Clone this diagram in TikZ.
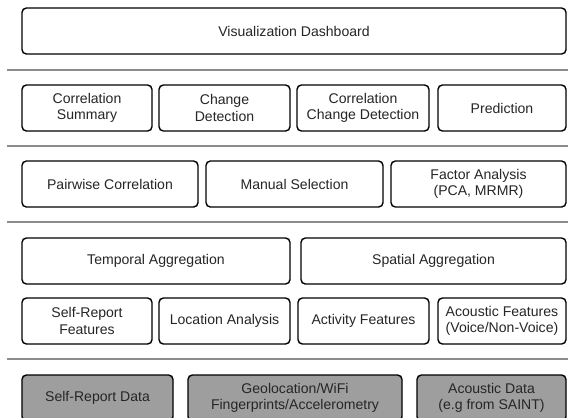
\documentclass[tikz,border=0pt]{standalone}
\usepackage{fontspec}
\setmainfont{Liberation Sans}
\tikzset{
	layer/.style={draw=black, line width=1pt, rounded corners=1.1mm, fill=white,
		align=center, inner sep=0pt, minimum height=11.5mm,
		font=\fontsize{10}{11.5}\selectfont, text=black!85},
	rawdata/.style={layer, fill=black!38},
	sep/.style={draw=black!45, line width=0.9pt}
}
\begin{document}
\begin{tikzpicture}[x=0.25mm, y=-0.25mm]
	\useasboundingbox (0,0) rectangle (568,417);
	% separators between the layers
	\coordinate (sl) at (7,0);
	\coordinate (sr) at (568,0);
	\foreach \y in {70,146,222,359}
		\draw[sep] (sl |- 0,\y) -- (sr |- 0,\y);
	% top layer
	\node[layer, minimum width=136mm] (dash) at (294,31) {Visualization Dashboard};
	% analysis
	\node[layer, minimum width=32.5mm] (corrsum) at (87,108) {Correlation\\Summary};
	\node[layer, minimum width=32.75mm] (change) at (224.5,108) {Change\\Detection};
	\node[layer, minimum width=33mm] (corrchange) at (363,108) {Correlation\\Change Detection};
	\node[layer, minimum width=32mm] (predict) at (502,108) {Prediction};
	% feature selection
	\node[layer, minimum width=44mm] (pairwise) at (110,184) {Pairwise Correlation};
	\node[layer, minimum width=44.25mm] (manual) at (294.5,184) {Manual Selection};
	\node[layer, minimum width=43.75mm] (factor) at (478.5,184) {Factor Analysis\\(PCA, MRMR)};
	% aggregation
	\node[layer, minimum width=67mm] (temporal) at (156,261) {Temporal Aggregation};
	\node[layer, minimum width=66.25mm] (spatial) at (433.5,261) {Spatial Aggregation};
	% features
	\node[layer, minimum width=32.5mm] (srfeat) at (87,321) {Self-Report\\Features};
	\node[layer, minimum width=32.75mm] (location) at (224.5,321) {Location Analysis};
	\node[layer, minimum width=32.75mm] (activity) at (363.5,321) {Activity Features};
	\node[layer, minimum width=32mm] (acfeat) at (502,321) {Acoustic Features\\(Voice/Non-Voice)};
	% data sources
	\node[rawdata, minimum width=37.75mm] (srdata) at (97.5,398) {Self-Report Data};
	\node[rawdata, minimum width=53.5mm] (geo) at (295,398) {Geolocation/WiFi\\Fingerprints/Accelerometry};
	\node[rawdata, minimum width=37.25mm] (acdata) at (491.5,398) {Acoustic Data\\(e.g from SAINT)};
\end{tikzpicture}
\end{document}
